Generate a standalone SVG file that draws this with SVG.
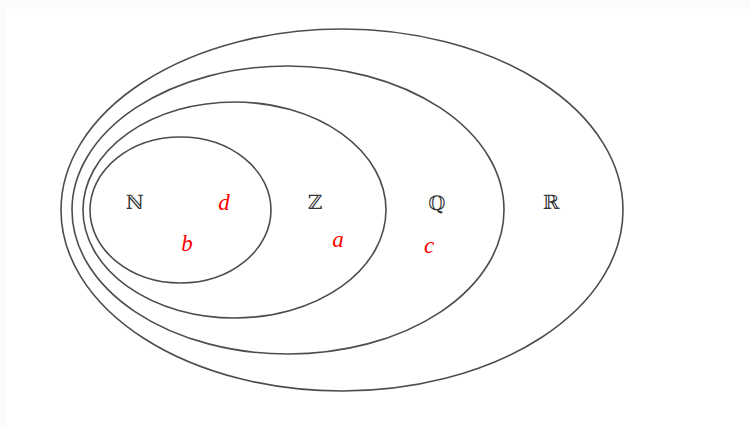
<svg xmlns="http://www.w3.org/2000/svg" width="751" height="426" viewBox="0 0 751 426">
<style>
.set{fill:none;stroke:#4d4d4d;stroke-width:1.6}
.lbl{font-family:"DejaVu Serif","Liberation Serif",serif;font-size:20px;fill:#333;text-anchor:middle}
.el{font-family:"Liberation Serif","Times New Roman",serif;font-style:italic;font-size:23px;fill:#ff0000;text-anchor:middle}
</style>
<rect x="0" y="0" width="751" height="426" fill="#fafbfd"/>
<rect x="6" y="9" width="745" height="417" fill="#ffffff"/>
<g id="R"><ellipse class="set" cx="342" cy="210" rx="281" ry="181"/><text class="lbl" x="551" y="209">ℝ</text></g>
<g id="Q"><ellipse class="set" cx="288" cy="210" rx="216" ry="144"/><text class="lbl" x="437" y="210">ℚ</text></g>
<g id="Z"><ellipse class="set" cx="234.5" cy="210" rx="151.5" ry="108"/><text class="lbl" x="315" y="209">ℤ</text></g>
<g id="N"><ellipse class="set" cx="180.5" cy="210" rx="90.5" ry="73"/><text class="lbl" x="135" y="209">ℕ</text></g>
<g id="elements">
<text class="el" x="224" y="210">d</text>
<text class="el" x="187" y="251">b</text>
<text class="el" x="338" y="247">a</text>
<text class="el" x="429" y="253">c</text>
</g>
<g id="connectors"/>
</svg>
